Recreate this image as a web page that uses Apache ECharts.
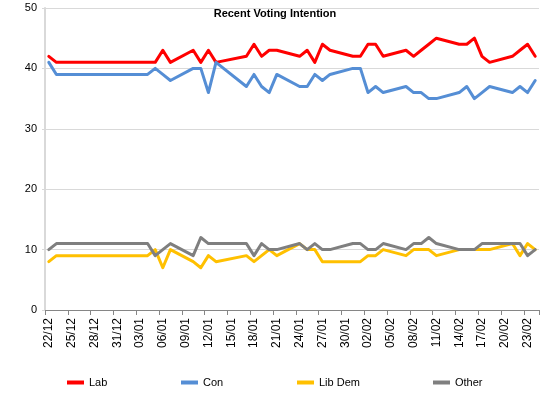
<!DOCTYPE html>
<html>
<head>
<meta charset="utf-8">
<script src="https://cdn.jsdelivr.net/npm/echarts@6/dist/echarts.min.js"></script>
<style>html,body{margin:0;padding:0;background:#fff}#c{width:550px;height:400px}</style>
</head>
<body>
<div id="c"></div>
<script>
var categories = [
  '22/12','23/12','24/12','25/12','26/12','27/12','28/12','29/12','30/12','31/12',
  '01/01','02/01','03/01','04/01','05/01','06/01','07/01','08/01','09/01','10/01',
  '11/01','12/01','13/01','14/01','15/01','16/01','17/01','18/01','19/01','20/01',
  '21/01','22/01','23/01','24/01','25/01','26/01','27/01','28/01','29/01','30/01','31/01',
  '01/02','02/02','03/02','04/02','05/02','06/02','07/02','08/02','09/02','10/02',
  '11/02','12/02','13/02','14/02','15/02','16/02','17/02','18/02','19/02','20/02',
  '21/02','22/02','23/02','24/02'
];
var lab = [42,41,null,null,null,null,null,null,null,null,null,null,null,41,41,43,41,null,null,43,
  41,43,41,null,null,null,42,44,42,43,43,null,null,42,43,41,44,43,null,null,42,
  42,44,44,42,null,null,43,42,43,44,45,null,null,44,44,45,42,41,null,null,42,43,44,42];
var con = [41,39,null,null,null,null,null,null,null,null,null,null,null,39,40,39,38,null,null,40,
  40,36,41,null,null,null,37,39,37,36,39,null,null,37,37,39,38,39,null,null,40,
  40,36,37,36,null,null,37,36,36,35,35,null,null,36,37,35,36,37,null,null,36,37,36,38];
var libDem = [8,9,null,null,null,null,null,null,null,null,null,null,null,9,10,7,10,null,null,8,
  7,9,8,null,null,null,9,8,9,10,9,null,null,11,10,10,8,8,null,null,8,
  8,9,9,10,null,null,9,10,10,10,9,null,null,10,10,10,10,10,null,null,11,9,11,10];
var other = [10,11,null,null,null,null,null,null,null,null,null,null,null,11,9,10,11,null,null,9,
  12,11,11,null,null,null,11,9,11,10,10,null,null,11,10,11,10,10,null,null,11,
  11,10,10,11,null,null,10,11,11,12,11,null,null,10,10,10,11,11,null,null,11,11,9,10];
var seriesNames = ['Lab','Con','Lib Dem','Other'];
var seriesColors = ['#ff0000','#558ed5','#ffc000','#7f7f7f'];
var yTicks = [0,10,20,30,40,50];

var font = 'Liberation Sans, Arial, sans-serif';
var values = [lab, con, libDem, other];
var legendLefts = [67, 181, 297, 433];

var chart = echarts.init(document.getElementById('c'), null, {renderer: 'canvas'});
chart.setOption({
  animation: false,
  backgroundColor: '#fff',
  title: {
    text: 'Recent Voting Intention',
    left: 'center', top: 8, padding: 0,
    textStyle: {fontFamily: font, fontSize: 11, fontWeight: 'bold', color: '#000'}
  },
  grid: {left: 45, right: 11, top: 8, bottom: 90, containLabel: false},
  legend: seriesNames.map(function (n, i) {
    return {
      data: [{name: n, icon: 'rect'}],
      left: legendLefts[i], top: 377, padding: 0,
      itemWidth: 17, itemHeight: 4, itemGap: 0,
      textStyle: {fontFamily: font, fontSize: 11, color: '#000'}
    };
  }),
  xAxis: {
    type: 'category',
    data: categories,
    boundaryGap: true,
    axisLine: {show: true, lineStyle: {color: '#868686', width: 1}},
    axisTick: {show: true, interval: 2, length: 5, lineStyle: {color: '#868686'}},
    axisLabel: {interval: 2, rotate: 90, fontFamily: font, fontSize: 12, color: '#000', margin: 8},
    splitLine: {show: false}
  },
  yAxis: {
    type: 'value',
    min: yTicks[0], max: yTicks[yTicks.length - 1], interval: 10,
    axisLine: {show: true, lineStyle: {color: '#d9d9d9', width: 2}},
    axisTick: {show: true, length: 3, lineStyle: {color: '#d9d9d9'}},
    axisLabel: {fontFamily: font, fontSize: 11, color: '#000', margin: 8},
    splitLine: {show: true, lineStyle: {color: '#d9d9d9', width: 1}}
  },
  series: seriesNames.map(function (n, i) {
    return {
      name: n, type: 'line', data: values[i],
      connectNulls: true, symbol: 'none', showSymbol: false,
      color: seriesColors[i],
      lineStyle: {width: 3, color: seriesColors[i], join: 'round', cap: 'round'}
    };
  })
});
</script>
</body>
</html>
